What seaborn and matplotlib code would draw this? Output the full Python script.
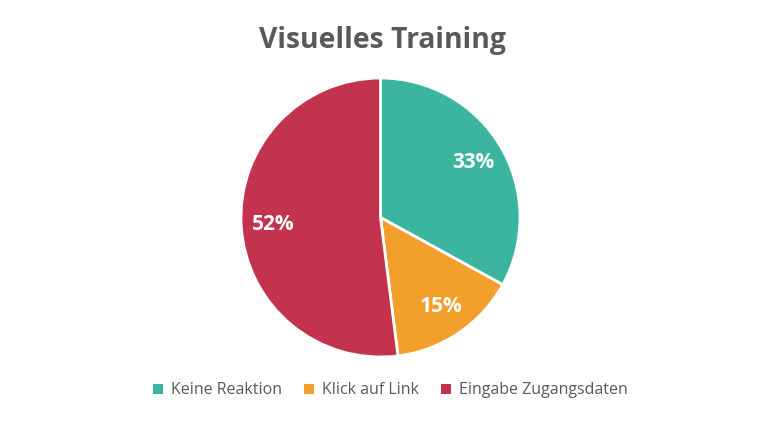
import matplotlib
matplotlib.use('Agg')
import matplotlib.pyplot as plt
import seaborn as sns

# Chart data
categories = ['Keine Reaktion', 'Klick auf Link', 'Eingabe Zugangsdaten']
shares = [33, 15, 52]
colors = ['#3cb5a0', '#f29f2c', '#c3334e']

sns.set_style('white')
plt.rcParams['font.family'] = ['Open Sans', 'DejaVu Sans']

fig = plt.figure(figsize=(7.64, 4.29), dpi=100)

# Pie axes: square region in pixels, centered under the title
ax = fig.add_axes([241 / 764, 72 / 429, 279 / 764, 279 / 429])
wedges, texts, autotexts = ax.pie(
    shares,
    colors=colors,
    startangle=90,
    counterclock=False,
    autopct='%1.0f%%',
    pctdistance=0.77,
    wedgeprops={'edgecolor': 'white', 'linewidth': 2},
    textprops={'color': 'white', 'fontsize': 15, 'fontweight': 'bold'},
)
ax.set_xlim(-1.0, 1.0)
ax.set_ylim(-1.0, 1.0)

fig.suptitle('Visuelles Training', y=0.94, fontsize=20.3, fontweight='bold', color='#595959')

# Legend with small square markers below the pie
leg = fig.legend(
    wedges, categories,
    loc='center', bbox_to_anchor=(0.511, 0.09),
    ncol=3, frameon=False,
    fontsize=11.5, labelcolor='#595959',
    handlelength=0.6, handleheight=0.6, handletextpad=0.5,
    columnspacing=1.4,
)
for h in leg.legend_handles:
    h.set_edgecolor('none')

fig.savefig('out.png', dpi=100)
